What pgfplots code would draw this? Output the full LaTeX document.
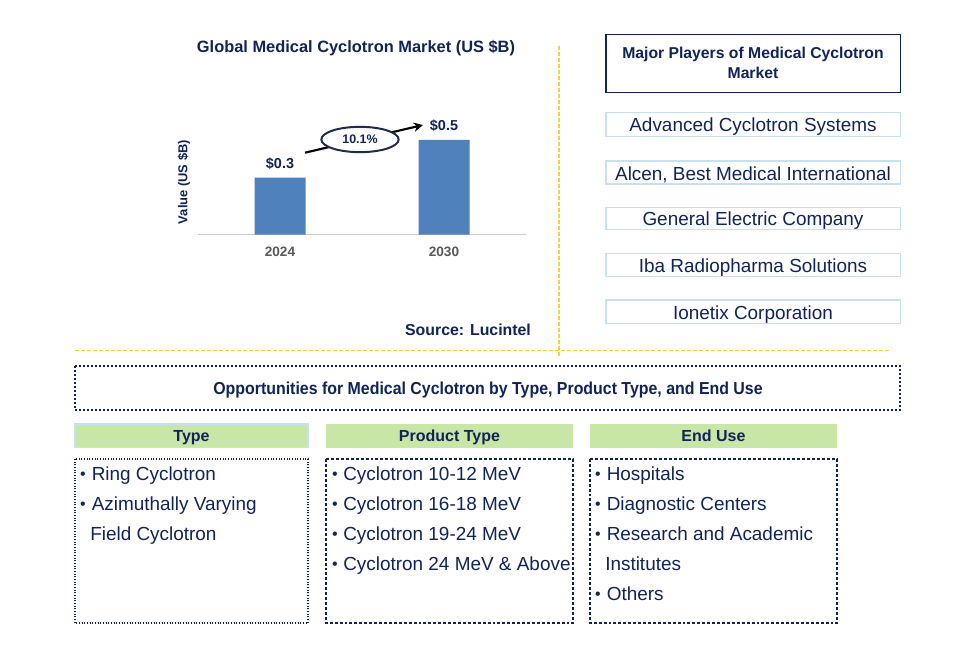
\documentclass[border=0pt]{standalone}
\usepackage{pgfplots}
\pgfplotsset{compat=1.18}
\usetikzlibrary{arrows.meta}
\usepackage{graphicx}
\usepackage{fontspec}
\setmainfont{Liberation Sans}
\definecolor{navy}{RGB}{16,36,90}
\definecolor{barblue}{RGB}{79,129,189}
\definecolor{lgreen}{RGB}{200,230,165}
\definecolor{lblue}{RGB}{200,225,242}
\definecolor{gold}{RGB}{255,205,60}
\definecolor{ellc}{RGB}{30,45,75}
\definecolor{tickgray}{RGB}{89,89,89}
\newcommand{\fs}[1]{\fontsize{#1}{#1}\selectfont}
\begin{document}
\begin{tikzpicture}[x=0.75pt,y=-0.75pt]
\useasboundingbox (0,0) rectangle (965,663);
\fill[white] (0,0) rectangle (965,663);

% ---- bar chart ----
\begin{axis}[
  at={(148.5pt,-175.875pt)}, anchor=south west,
  x=123pt, y=142pt,
  xmin=-0.5, xmax=1.5, ymin=0, ymax=0.6,
  axis x line*=bottom, axis y line=none,
  x axis line style={draw=gray!40, line width=0.75pt, -},
  xtick={0,1}, xticklabels={2024,2030}, major tick length=0pt,
  xticklabel style={font=\fs{10.2}\bfseries, text=tickgray, anchor=north, inner sep=0pt, yshift=-9pt},
  ytick=\empty,
  ybar, bar width=38.25pt,
  nodes near coords={\$\pgfmathprintnumber[fixed,fixed zerofill,precision=1]{\pgfplotspointmeta}},
  nodes near coords style={font=\fs{10.8}\bfseries, text=navy, anchor=base, inner sep=0pt, yshift=6.75pt},
  /pgf/number format/assume math mode=true,
  clip=false,
]
\addplot[fill=barblue, draw=none] coordinates {(0,0.3) (1,0.5)};
\end{axis}

% title, y label, source
\node[anchor=base, font=\fs{12.3}\bfseries, text=navy] at (356,53) {Global Medical Cyclotron Market (US \$B)};
\node[rotate=90, font=\fs{9.7}\bfseries, text=navy] at (184,182) {Value (US \$B)};
\node[anchor=base, font=\fs{11.9}\bfseries, text=navy] at (468,335.5) {Source: Lucintel};

% CAGR arrow + ellipse
\draw[black, line width=1.6pt, -{Stealth[length=7pt,width=7pt]}] (305,152.7) -- (423,125);
\draw[ellc, line width=1.5pt, fill=white] (360,139.5) ellipse [x radius=29pt, y radius=9.5pt];
\node[font=\fs{9.3}\bfseries, text=navy] at (360,139.5) {10.1\%};

% gold separators
\draw[gold, line width=0.9pt, dash pattern=on 3pt off 1.5pt] (559,46) -- (559,357);
\draw[gold, line width=0.9pt, dash pattern=on 3pt off 1.5pt] (75,350.5) -- (890,350.5);

% ---- players ----
\draw[navy, line width=1.1pt] (606,34.5) rectangle (900.5,92.5);
\node[anchor=base, font=\fs{11.8}\bfseries, text=navy] at (753,58.3) {Major Players of Medical Cyclotron};
\node[anchor=base, font=\fs{11.8}\bfseries, text=navy] at (753,79) {Market};

\draw[lblue, line width=1.1pt] (606,112.5) rectangle (900.5,136.5);
\draw[lblue, line width=1.1pt] (606,161) rectangle (900.5,184);
\draw[lblue, line width=1.1pt] (606,207.3) rectangle (900.5,229.5);
\draw[lblue, line width=1.1pt] (606,253.3) rectangle (900.5,276.7);
\draw[lblue, line width=1.1pt] (606,300) rectangle (900.5,323.3);
\node[anchor=base, font=\fs{14.2}, text=navy] at (753,131.7) {Advanced Cyclotron Systems};
\node[anchor=base, font=\fs{14.2}, text=navy] at (753,180.7) {Alcen, Best Medical International};
\node[anchor=base, font=\fs{14.2}, text=navy] at (753,226) {General Electric Company};
\node[anchor=base, font=\fs{14.2}, text=navy] at (753,272.3) {Iba Radiopharma Solutions};
\node[anchor=base, font=\fs{14.2}, text=navy] at (753,319.3) {Ionetix Corporation};

% ---- opportunities ----
\draw[navy, line width=0.8pt, dash pattern=on 1.5pt off 1.5pt] (75,366) rectangle (900,410);
\node[anchor=base, font=\fs{13}\bfseries, text=navy] at (488,394) {\scalebox{0.918}[1]{Opportunities for Medical Cyclotron by Type, Product Type, and End Use}};

\fill[lgreen] (75,424) rectangle (308,447.5);
\draw[lblue, line width=0.8pt] (75,424) rectangle (308,447.5);
\fill[lgreen] (326,424) rectangle (573,447.5);
\fill[lgreen] (590,424) rectangle (837,447.5);
\node[anchor=base, font=\fs{12}\bfseries, text=navy] at (191.5,441) {Type};
\node[anchor=base, font=\fs{12}\bfseries, text=navy] at (449.5,441) {Product Type};
\node[anchor=base, font=\fs{12}\bfseries, text=navy] at (713.5,441) {End Use};

\draw[navy, line width=0.8pt, dash pattern=on 0.8pt off 1.2pt] (75,459) rectangle (308,623);
\draw[navy, line width=0.8pt, dash pattern=on 2.2pt off 1.5pt] (326,459) rectangle (573,623);
\draw[navy, line width=0.8pt, dash pattern=on 2.2pt off 1.5pt] (590,459) rectangle (837,623);

\tikzset{bl/.style={anchor=base, font=\fs{12}, text=navy, inner sep=0pt},
         tx/.style={anchor=base west, font=\fs{14.2}, text=navy, inner sep=0pt}}
% Type
\node[bl] at (83,479.5) {•}; \node[tx] at (91.5,480.5) {Ring Cyclotron};
\node[bl] at (83,509) {•};   \node[tx] at (91.5,510) {Azimuthally Varying};
\node[tx] at (90,540) {Field Cyclotron};
% Product type
\node[bl] at (335,479.5) {•}; \node[tx] at (343,480.5) {Cyclotron 10-12 MeV};
\node[bl] at (335,509) {•};   \node[tx] at (343,510) {Cyclotron 16-18 MeV};
\node[bl] at (335,539) {•};   \node[tx] at (343,540) {Cyclotron 19-24 MeV};
\node[bl] at (335,569) {•};   \node[tx] at (343,570) {Cyclotron 24 MeV \& Above};
% End use
\node[bl] at (598,479.5) {•}; \node[tx] at (606.5,480.5) {Hospitals};
\node[bl] at (598,509) {•};   \node[tx] at (606.5,510) {Diagnostic Centers};
\node[bl] at (598,539) {•};   \node[tx] at (606.5,540) {Research and Academic};
\node[tx] at (605,570) {Institutes};
\node[bl] at (598,599) {•};   \node[tx] at (606.5,600) {Others};
\end{tikzpicture}
\end{document}
